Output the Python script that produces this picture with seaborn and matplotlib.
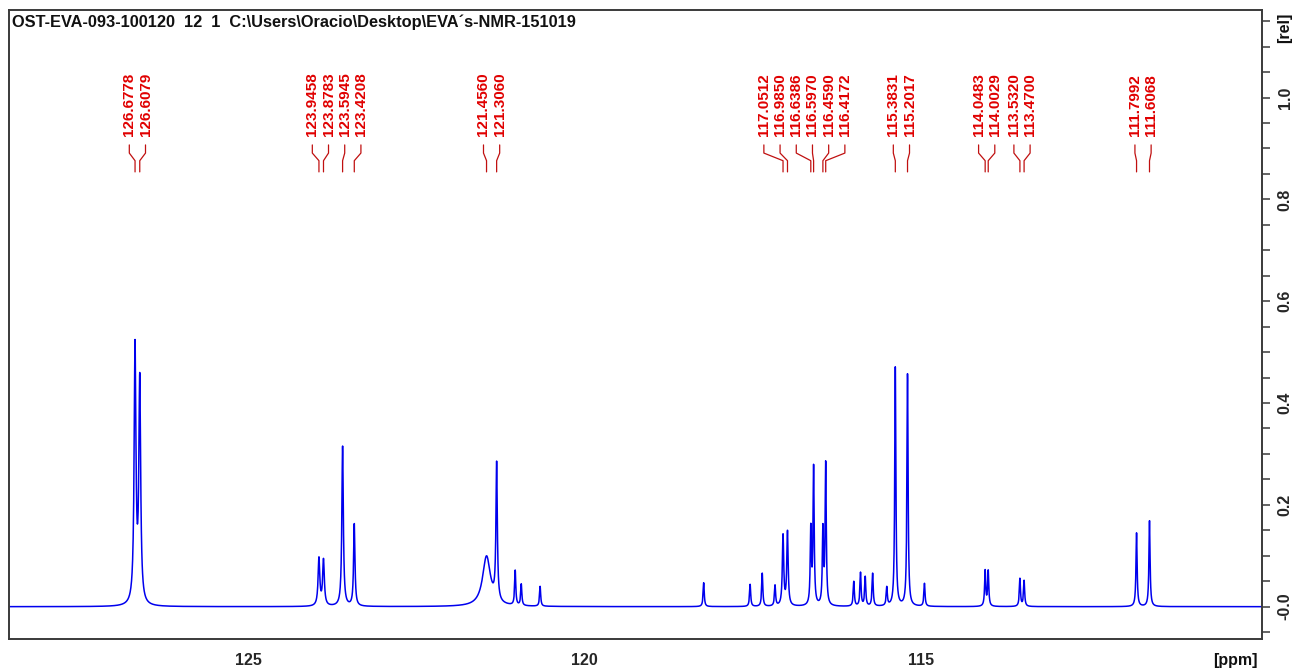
import numpy as np
import matplotlib
matplotlib.use("Agg")
import matplotlib.pyplot as plt
from matplotlib.ticker import MultipleLocator
import seaborn as sns

# ---- data -------------------------------------------------------------
title_text = "OST-EVA-093-100120  12  1  C:\\Users\\Oracio\\Desktop\\EVA\u00b4s-NMR-151019"

# picked peaks (ppm) with their observed intensity and half width (ppm)
peak_ppm = [126.6778, 126.6079, 123.9458, 123.8783, 123.5945, 123.4208,
            121.4560, 121.3060, 117.0512, 116.9850, 116.6386, 116.5970,
            116.4590, 116.4172, 115.3831, 115.2017, 114.0483, 114.0029,
            113.5320, 113.4700, 111.7992, 111.6068]
peak_height = [0.525, 0.460, 0.098, 0.095, 0.316, 0.164,
               0.100, 0.286, 0.144, 0.151, 0.164, 0.282,
               0.164, 0.288, 0.475, 0.458, 0.073, 0.073,
               0.056, 0.052, 0.146, 0.170]
peak_hwhm = [0.016, 0.016, 0.015, 0.015, 0.013, 0.012,
             0.070, 0.012, 0.012, 0.012, 0.010, 0.010,
             0.010, 0.010, 0.010, 0.010, 0.010, 0.010,
             0.010, 0.010, 0.010, 0.010]

# smaller unpicked signals
minor_ppm = [121.03, 120.94, 120.66, 118.23, 117.54, 117.36, 117.17,
             116.00, 115.90, 115.83, 115.72, 115.51, 114.95]
minor_height = [0.072, 0.045, 0.040, 0.047, 0.044, 0.066, 0.043,
                0.050, 0.068, 0.060, 0.066, 0.040, 0.046]
minor_hwhm = [0.010, 0.010, 0.010, 0.010, 0.010, 0.010, 0.010,
              0.010, 0.010, 0.010, 0.010, 0.010, 0.010]

x_major = list(range(110, 129))
x_labelled = [125, 120, 115]
y_tick_values = [0.0, 0.2, 0.4, 0.6, 0.8, 1.0]
y_tick_labels = ["-0.0", "0.2", "0.4", "0.6", "0.8", "1.0"]

# ---- spectrum from line list ---------------------------------------------
def lorentz(x, c, w):
    return w ** 2 / (w ** 2 + (x - c) ** 2)

centres = np.array(peak_ppm + minor_ppm)
heights = np.array(peak_height + minor_height)
widths = np.array(peak_hwhm + minor_hwhm)

# amplitudes such that the summed curve reaches each listed height at its centre
shape = lorentz(centres[:, None], centres[None, :], widths[None, :])
amps = np.linalg.solve(shape, heights)

ppm = np.arange(109.90, 128.60, 0.002)
intensity = (amps[None, :] * lorentz(ppm[:, None], centres[None, :], widths[None, :])).sum(axis=1)

# ---- style ------------------------------------------------------------------
sns.set_style("white")
plt.rcParams["font.family"] = ["Liberation Sans", "DejaVu Sans"]
plt.rcParams["font.weight"] = "bold"

W, H = 1299, 672
fig = plt.figure(figsize=(W / 100, H / 100), dpi=100)
left, right, top, bottom = 9.3, 1261.7, 9.5, 638.5
ax = fig.add_axes([left / W, 1 - bottom / H, (right - left) / W, (bottom - top) / H])

sns.lineplot(x=ppm, y=intensity, ax=ax, color="#0000ee", linewidth=1.1,
             estimator=None, sort=False)

ax.set_xlim(128.546, 109.94)
ax.set_ylim(-0.0625, 1.173)
ax.set_xlabel("")
ax.set_ylabel("")

for sp in ax.spines.values():
    sp.set_visible(True)
    sp.set_color("#3a3a3a")
    sp.set_linewidth(1.4)

# x axis: a tick every ppm, numbers every 5 ppm
ax.set_xticks(x_major)
ax.set_xticklabels([str(v) if v in x_labelled else "" for v in x_major])
ax.tick_params(axis="x", which="major", direction="out", length=4.5, width=1.1,
               color="#3a3a3a", pad=6, labelsize=11.5)

# y axis on the right with rotated numbers
ax.yaxis.tick_right()
ax.set_yticks(y_tick_values)
ax.set_yticklabels(y_tick_labels)
ax.yaxis.set_minor_locator(MultipleLocator(0.05))
ax.tick_params(axis="y", which="both", direction="out", length=5.5, width=1.1,
               color="#3a3a3a", pad=6, labelsize=11.5)
for lab in ax.get_yticklabels():
    lab.set_rotation(90)
    lab.set_va("center")
    lab.set_ha("left")

# ---- peak labels ---------------------------------------------------------------
gap = 16.2 / ((right - left) / (128.546 - 109.94))  # label spacing in ppm

order = sorted(range(len(peak_ppm)), key=lambda i: -peak_ppm[i])
clusters = [[i] for i in order]

def label_positions(cl):
    vals = [peak_ppm[i] for i in cl]
    c = (max(vals) + min(vals)) / 2
    n = len(cl)
    return [c + gap * ((n - 1) / 2 - k) for k in range(n)]

changed = True
while changed:
    changed = False
    for k in range(len(clusters) - 1):
        a, b = clusters[k], clusters[k + 1]
        if min(label_positions(a)) - max(label_positions(b)) < gap - 1e-9:
            clusters[k] = a + b
            del clusters[k + 1]
            changed = True
            break

red_text = "#e00000"
red_line = "#c01010"
y_text = 0.9248
y_link = [0.907, 0.891, 0.876, 0.854]
for cl in clusters:
    for i, lx in zip(cl, label_positions(cl)):
        px = peak_ppm[i]
        ax.text(lx, y_text, f"{px:.4f}", rotation=90, ha="center", va="bottom",
                color=red_text, fontsize=11, fontweight="bold")
        ax.plot([lx, lx, px, px], y_link, color=red_line, linewidth=0.9)

# ---- header and units ------------------------------------------------------------
fig.text(12 / W, 1 - 22.5 / H, title_text, fontsize=11.8, fontweight="bold",
         ha="left", va="center", color="#111111")
fig.text(1258 / W, 1 - 661 / H, "[ppm]", fontsize=11.5, fontweight="bold",
         ha="right", va="center", color="#111111")
fig.text(1285 / W, 1 - 28 / H, "[rel]", fontsize=11.5, fontweight="bold",
         rotation=90, ha="center", va="center", color="#111111")

fig.savefig("out.png", dpi=100, facecolor="white")
